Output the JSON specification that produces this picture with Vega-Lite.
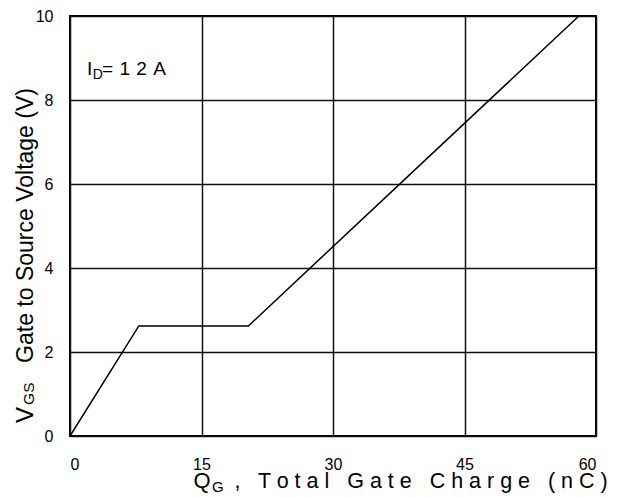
{
  "$schema": "https://vega.github.io/schema/vega-lite/v6.json",
  "width": 526,
  "height": 420,
  "autosize": {"type": "none"},
  "padding": {"left": 70, "top": 16, "right": 36, "bottom": 61},
  "background": "white",
  "config": {
    "font": "Liberation Sans",
    "view": {"stroke": "#000000", "strokeWidth": 2},
    "axis": {
      "grid": true,
      "gridColor": "#111111",
      "gridWidth": 1.5,
      "gridOpacity": 1,
      "domain": false,
      "ticks": false,
      "labelFont": "Liberation Sans",
      "labelFontSize": 16,
      "labelColor": "#000000",
      "title": null
    },
    "text": {"font": "Liberation Sans", "color": "#000000", "align": "left", "baseline": "alphabetic"}
  },
  "layer": [
    {
      "data": {
        "values": [
          {"qg": 0, "vgs": 0},
          {"qg": 7.85, "vgs": 2.62},
          {"qg": 20.35, "vgs": 2.62},
          {"qg": 58.05, "vgs": 10}
        ]
      },
      "mark": {"type": "line", "color": "#000000", "strokeWidth": 1.5},
      "encoding": {
        "x": {
          "field": "qg",
          "type": "quantitative",
          "scale": {"domain": [0, 60], "nice": false, "zero": false},
          "axis": {"values": [0, 15, 30, 45, 60], "labelPadding": 20}
        },
        "y": {
          "field": "vgs",
          "type": "quantitative",
          "scale": {"domain": [0, 10], "nice": false, "zero": false},
          "axis": {"values": [0, 2, 4, 6, 8, 10], "labelPadding": 17}
        }
      }
    },
    {
      "data": {"values": [{}]},
      "mark": {"type": "text", "text": "I", "fontSize": 19},
      "encoding": {"x": {"datum": 1.95, "type": "quantitative"}, "y": {"datum": 8.6, "type": "quantitative"}}
    },
    {
      "data": {"values": [{}]},
      "mark": {"type": "text", "text": "D", "fontSize": 14},
      "encoding": {"x": {"datum": 2.6, "type": "quantitative"}, "y": {"datum": 8.5, "type": "quantitative"}}
    },
    {
      "data": {"values": [{}]},
      "mark": {"type": "text", "text": "=\u20041\u20042\u2004A", "fontSize": 19},
      "encoding": {"x": {"datum": 3.65, "type": "quantitative"}, "y": {"datum": 8.6, "type": "quantitative"}}
    },
    {
      "data": {"values": [{}]},
      "mark": {"type": "text", "text": "Q", "fontSize": 22},
      "encoding": {"x": {"datum": 14.1, "type": "quantitative"}, "y": {"datum": -1.24, "type": "quantitative"}}
    },
    {
      "data": {"values": [{}]},
      "mark": {"type": "text", "text": "G", "fontSize": 15},
      "encoding": {"x": {"datum": 16.2, "type": "quantitative"}, "y": {"datum": -1.33, "type": "quantitative"}}
    },
    {
      "data": {"values": [{}]},
      "mark": {"type": "text", "text": ",", "fontSize": 21.5},
      "encoding": {"x": {"datum": 18.77, "type": "quantitative"}, "y": {"datum": -1.24, "type": "quantitative"}}
    },
    {
      "data": {"values": [{}]},
      "mark": {"type": "text", "text": "T o t a l\u00a0\u00a0\u00a0G a t e\u00a0\u00a0\u00a0C h a r g e\u00a0\u00a0\u00a0( n C )", "fontSize": 21.5},
      "encoding": {"x": {"datum": 21.44, "type": "quantitative"}, "y": {"datum": -1.24, "type": "quantitative"}}
    },
    {
      "data": {"values": [{}]},
      "mark": {"type": "text", "text": "V", "fontSize": 24, "angle": 270},
      "encoding": {"x": {"datum": -4.22, "type": "quantitative"}, "y": {"datum": 0.31, "type": "quantitative"}}
    },
    {
      "data": {"values": [{}]},
      "mark": {"type": "text", "text": "GS", "fontSize": 15.5, "angle": 270},
      "encoding": {"x": {"datum": -4.1, "type": "quantitative"}, "y": {"datum": 0.74, "type": "quantitative"}}
    },
    {
      "data": {"values": [{}]},
      "mark": {"type": "text", "text": "Gate to Source Voltage (V)", "fontSize": 23, "angle": 270},
      "encoding": {"x": {"datum": -4.22, "type": "quantitative"}, "y": {"datum": 1.74, "type": "quantitative"}}
    }
  ]
}
